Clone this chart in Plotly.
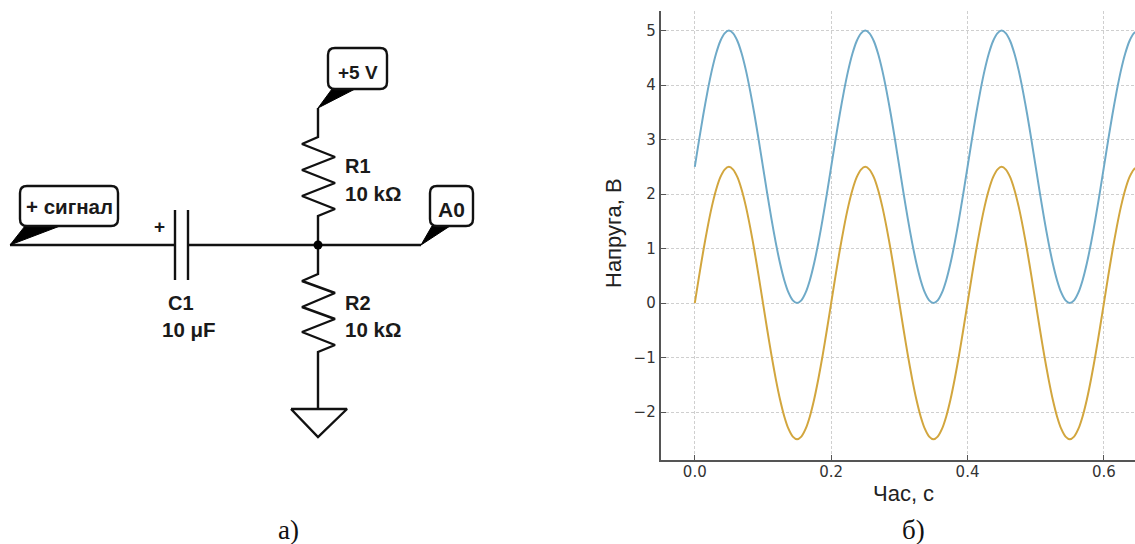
import plotly.graph_objects as go

# ---- Chart б): values ----
time_s = [0.0, 0.00625, 0.0125, 0.01875, 0.025, 0.03125, 0.0375, 0.04375, 0.05, 0.05625, 0.0625, 0.06875, 0.075, 0.08125, 0.0875, 0.09375,
          0.1, 0.10625, 0.1125, 0.11875, 0.125, 0.13125, 0.1375, 0.14375, 0.15, 0.15625, 0.1625, 0.16875, 0.175, 0.18125, 0.1875, 0.19375,
          0.2, 0.20625, 0.2125, 0.21875, 0.225, 0.23125, 0.2375, 0.24375, 0.25, 0.25625, 0.2625, 0.26875, 0.275, 0.28125, 0.2875, 0.29375,
          0.3, 0.30625, 0.3125, 0.31875, 0.325, 0.33125, 0.3375, 0.34375, 0.35, 0.35625, 0.3625, 0.36875, 0.375, 0.38125, 0.3875, 0.39375,
          0.4, 0.40625, 0.4125, 0.41875, 0.425, 0.43125, 0.4375, 0.44375, 0.45, 0.45625, 0.4625, 0.46875, 0.475, 0.48125, 0.4875, 0.49375,
          0.5, 0.50625, 0.5125, 0.51875, 0.525, 0.53125, 0.5375, 0.54375, 0.55, 0.55625, 0.5625, 0.56875, 0.575, 0.58125, 0.5875, 0.59375,
          0.6, 0.60625, 0.6125, 0.61875, 0.625, 0.63125, 0.6375, 0.64375, 0.65]
blue_v = [2.5, 2.99, 3.46, 3.89, 4.27, 4.58, 4.81, 4.95, 5.0, 4.95, 4.81, 4.58, 4.27, 3.89, 3.46, 2.99,
          2.5, 2.01, 1.54, 1.11, 0.73, 0.42, 0.19, 0.05, 0.0, 0.05, 0.19, 0.42, 0.73, 1.11, 1.54, 2.01,
          2.5, 2.99, 3.46, 3.89, 4.27, 4.58, 4.81, 4.95, 5.0, 4.95, 4.81, 4.58, 4.27, 3.89, 3.46, 2.99,
          2.5, 2.01, 1.54, 1.11, 0.73, 0.42, 0.19, 0.05, 0.0, 0.05, 0.19, 0.42, 0.73, 1.11, 1.54, 2.01,
          2.5, 2.99, 3.46, 3.89, 4.27, 4.58, 4.81, 4.95, 5.0, 4.95, 4.81, 4.58, 4.27, 3.89, 3.46, 2.99,
          2.5, 2.01, 1.54, 1.11, 0.73, 0.42, 0.19, 0.05, 0.0, 0.05, 0.19, 0.42, 0.73, 1.11, 1.54, 2.01,
          2.5, 2.99, 3.46, 3.89, 4.27, 4.58, 4.81, 4.95, 5.0]
gold_v = [0.0, 0.49, 0.96, 1.39, 1.77, 2.08, 2.31, 2.45, 2.5, 2.45, 2.31, 2.08, 1.77, 1.39, 0.96, 0.49,
          0.0, -0.49, -0.96, -1.39, -1.77, -2.08, -2.31, -2.45, -2.5, -2.45, -2.31, -2.08, -1.77, -1.39, -0.96, -0.49,
          0.0, 0.49, 0.96, 1.39, 1.77, 2.08, 2.31, 2.45, 2.5, 2.45, 2.31, 2.08, 1.77, 1.39, 0.96, 0.49,
          0.0, -0.49, -0.96, -1.39, -1.77, -2.08, -2.31, -2.45, -2.5, -2.45, -2.31, -2.08, -1.77, -1.39, -0.96, -0.49,
          0.0, 0.49, 0.96, 1.39, 1.77, 2.08, 2.31, 2.45, 2.5, 2.45, 2.31, 2.08, 1.77, 1.39, 0.96, 0.49,
          0.0, -0.49, -0.96, -1.39, -1.77, -2.08, -2.31, -2.45, -2.5, -2.45, -2.31, -2.08, -1.77, -1.39, -0.96, -0.49,
          0.0, 0.49, 0.96, 1.39, 1.77, 2.08, 2.31, 2.45, 2.5]
x_ticks = [0.0, 0.2, 0.4, 0.6]
x_tick_labels = ["0.0", "0.2", "0.4", "0.6"]
y_ticks = [-2, -1, 0, 1, 2, 3, 4, 5]
y_tick_labels = ["−2", "−1", "0", "1", "2", "3", "4", "5"]

# ---- Schematic а): drawing in page pixels ----
W, H = 1135, 544
wires = [
    [(10, 245), (175, 245)],
    [(188, 245), (421, 245)],
    [(175, 210), (175, 280)],
    [(188, 210), (188, 280)],
    [(318, 108), (318, 137), (302, 144), (335, 157), (302, 170), (335, 183), (302, 196), (335, 209), (318, 216), (318, 245)],
    [(318, 245), (318, 274), (302, 281), (335, 293), (302, 307), (335, 319), (302, 332), (335, 345), (318, 352), (318, 409)],
    [(291, 409), (347, 409), (318, 437), (291, 409)],
]
wedges = [
    [(10, 245), (25, 226), (60, 226)],
    [(318, 108), (332, 89), (355, 89)],
    [(421, 245), (432, 226), (450, 226)],
]
boxes = [(20, 186, 118, 226), (328, 48, 387, 89), (430, 186, 473, 226)]
node = [(318, 245)]
labels = [
    ("<b>+5 V</b>", 358, 72, "center", 19),
    ("<b>A0</b>", 451, 209, "center", 21),
    ("<b>+ сигнал</b>", 69, 206, "center", 20.5),
    ("<b>+</b>", 159, 226, "center", 19),
    ("<b>R1</b>", 343, 166, "left", 20),
    ("<b>10 kΩ</b>", 343, 193, "left", 20.5),
    ("<b>R2</b>", 343, 303, "left", 20),
    ("<b>10 kΩ</b>", 343, 329, "left", 20.5),
    ("<b>C1</b>", 181, 303, "center", 20),
    ("<b>10 μF</b>", 189, 329, "center", 20.5),
]
captions = [("а)", 288, 530), ("б)", 913, 530)]
axis_titles = [("Час, с", 903, 493, 0), ("Напруга, В", 613, 233, -90)]

INK = "#111111"
fig = go.Figure()

fig.add_trace(go.Scatter(x=time_s, y=blue_v, mode="lines", line=dict(color="#6FAAC8", width=2, shape="spline", smoothing=0.8),
                         name="blue", xaxis="x", yaxis="y"))
fig.add_trace(go.Scatter(x=time_s, y=gold_v, mode="lines", line=dict(color="#D2A63E", width=2, shape="spline", smoothing=0.8),
                         name="gold", xaxis="x", yaxis="y"))

for w in wires:
    fig.add_trace(go.Scatter(x=[p[0] for p in w], y=[p[1] for p in w], mode="lines",
                             line=dict(color=INK, width=2.4), xaxis="x2", yaxis="y2", hoverinfo="skip"))
for w in wedges:
    fig.add_trace(go.Scatter(x=[p[0] for p in w] + [w[0][0]], y=[p[1] for p in w] + [w[0][1]], mode="lines",
                             fill="toself", fillcolor="black", line=dict(color="black", width=1),
                             xaxis="x2", yaxis="y2", hoverinfo="skip"))
fig.add_trace(go.Scatter(x=[p[0] for p in node], y=[p[1] for p in node], mode="markers",
                         marker=dict(color="black", size=9), xaxis="x2", yaxis="y2", hoverinfo="skip"))


def round_box(x0, y0, x1, y1, r=7):
    return (f"M {x0+r} {y0} L {x1-r} {y0} Q {x1} {y0} {x1} {y0+r} L {x1} {y1-r} Q {x1} {y1} {x1-r} {y1} "
            f"L {x0+r} {y1} Q {x0} {y1} {x0} {y1-r} L {x0} {y0+r} Q {x0} {y0} {x0+r} {y0} Z")


shapes = [dict(type="path", path=round_box(*b), xref="x2", yref="y2", fillcolor="white",
               line=dict(color=INK, width=2.4), layer="above") for b in boxes]

annotations = [dict(text=t, x=x, y=y, xref="x2", yref="y2", xanchor=a, yanchor="middle", showarrow=False,
                    font=dict(family="Liberation Sans", size=s, color="#1a1a1a"))
               for t, x, y, a, s in labels]
annotations += [dict(text=t, x=x, y=y, xref="x2", yref="y2", xanchor="center", yanchor="middle", showarrow=False,
                     font=dict(family="Liberation Serif", size=27, color="#111111"))
                for t, x, y in captions]
annotations += [dict(text=t, x=x, y=y, xref="x2", yref="y2", xanchor="center", yanchor="middle", showarrow=False,
                     textangle=a, font=dict(family="Liberation Sans", size=22, color="#222222"))
                for t, x, y, a in axis_titles]

GRID = "#cfcfcf"
SPINE = "#555555"
fig.update_layout(
    width=W, height=H, autosize=False, margin=dict(l=0, r=0, t=0, b=0),
    paper_bgcolor="white", plot_bgcolor="rgba(0,0,0,0)", showlegend=False,
    shapes=shapes, annotations=annotations,
    font=dict(family="DejaVu Sans", color="#333333"),
    xaxis=dict(domain=[660.7 / W, 1], range=[-0.05, 0.6456], anchor="y",
               tickmode="array", tickvals=x_ticks, ticktext=x_tick_labels, tickfont=dict(size=15, color="#333333"),
               ticks="inside", ticklen=5, tickcolor=SPINE, tickwidth=1, ticklabelstandoff=-3,
               showgrid=True, gridcolor=GRID, griddash="3px,2px", gridwidth=1, zeroline=False,
               showline=True, linecolor=SPINE, linewidth=2),
    yaxis=dict(domain=[(H - 460) / H, (H - 11) / H], range=[-2.88, 5.36], anchor="x",
               tickmode="array", tickvals=y_ticks, ticktext=y_tick_labels, tickfont=dict(size=15, color="#333333"),
               ticks="inside", ticklen=5, tickcolor=SPINE, tickwidth=1,
               showgrid=True, gridcolor=GRID, griddash="3px,2px", gridwidth=1, zeroline=False,
               showline=True, linecolor=SPINE, linewidth=2),
    xaxis2=dict(domain=[0, 1], range=[0, W], anchor="y2", visible=False, fixedrange=True),
    yaxis2=dict(domain=[0, 1], range=[H, 0], anchor="x2", visible=False, fixedrange=True),
)

fig.write_html("out.html", config=dict(displayModeBar=False),
               post_script="document.body.style.margin='0';document.body.style.overflow='hidden';")
